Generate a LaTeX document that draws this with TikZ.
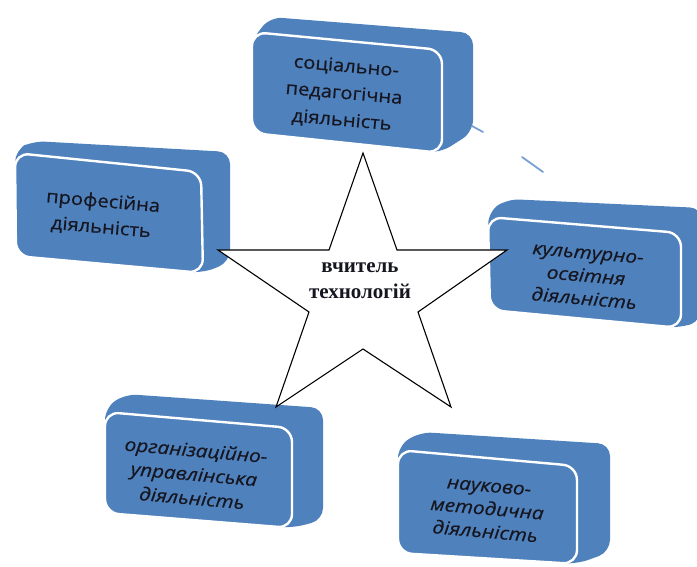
\documentclass[tikz,border=0pt]{standalone}
\usepackage{fontspec}
\setmainfont{Liberation Serif}
\newfontfamily\boxfont[FakeBold=0.5]{Open Sans}
\newfontfamily\boxfontit[FakeBold=0.5]{Open Sans Italic}
\definecolor{boxblue}{RGB}{79,129,189}
\definecolor{arcblue}{RGB}{120,160,210}
\definecolor{txt}{RGB}{22,22,32}
\begin{document}
\begin{tikzpicture}[x=1pt,y=-1pt,
  backs/.style={fill=boxblue, rounded corners=12pt},
  face/.style={fill=boxblue, draw=white, line width=2.4pt, rounded corners=14pt},
  uplabel/.style={align=center, text=txt, rotate=-5, inner sep=0pt},
  itlabel/.style={align=center, text=txt, rotate=-5, inner sep=0pt},
  starline/.style={draw=black, fill=white, line width=1.1pt, line join=miter},
  arcfrag/.style={draw=arcblue, line width=1.8pt, line cap=round}]
\useasboundingbox (0,0) rectangle (697,567);
% box 1: social-pedagogical
\fill[backs] (252,40)--(270,17)--(473,33)--(473,132)--(440,153)--(252,133)--cycle;
\draw[face] (252,32)--(442,50)--(442,153)--(252,133)--cycle;
\node[uplabel, xscale=1.12, font=\boxfont\fontsize{18}{27}\selectfont] (b1) at (344,94) {соціально-\\педагогічна\\діяльність};
% box 2: professional
\fill[backs] (15,150)--(33,141)--(230,152)--(230,262)--(203,273)--(16,256)--cycle;
\draw[face] (15,153)--(201,172)--(203,273)--(16,256)--cycle;
\node[uplabel, xscale=1.12, font=\boxfont\fontsize{18}{26}\selectfont] (b2) at (102,215) {професійна\\діяльність};
% box 3: cultural-educational
\fill[backs] (488,212)--(507,199)--(702,208)--(702,320)--(681,328)--(490,310)--cycle;
\draw[face] (488,217)--(681,233)--(681,328)--(490,310)--cycle;
\node[itlabel, xscale=1.15, font=\boxfontit\fontsize{18}{23}\selectfont] (b3) at (586,277) {культурно-\\освітня\\діяльність};
% box 4: organizational-managerial
\fill[backs] (105,408)--(125,394)--(323,408)--(323,520)--(292,528)--(105,513)--cycle;
\draw[face] (105,412)--(292,428)--(292,528)--(105,513)--cycle;
\node[itlabel, xscale=1.15, font=\boxfontit\fontsize{18}{24}\selectfont] (b4) at (194,474) {організаційно-\\управлінська\\діяльність};
% box 5: scientific-methodical
\fill[backs] (398,446)--(420,432)--(610,444)--(610,552)--(577,564)--(398,553)--cycle;
\draw[face] (398,450)--(577,466)--(577,564)--(398,553)--cycle;
\node[itlabel, xscale=1.15, font=\boxfontit\fontsize{18}{23}\selectfont] (b5) at (487,510) {науково-\\методична\\діяльність};
% faint arc fragments
\draw[arcfrag] (472,126)--(483,132);
\draw[arcfrag] (522,157)--(543,172);
% star
\draw[starline] (363,153)--(397,250)--(507,250)--(418,312)--(451,407)--(363,349)--(276,407)--(309,312)--(218,250)--(329,250)--cycle;
\node[align=center, font=\bfseries\fontsize{21}{26}\selectfont, text=txt, inner sep=0pt] (star) at (360,281) {вчитель\\технологій};
\end{tikzpicture}
\end{document}
